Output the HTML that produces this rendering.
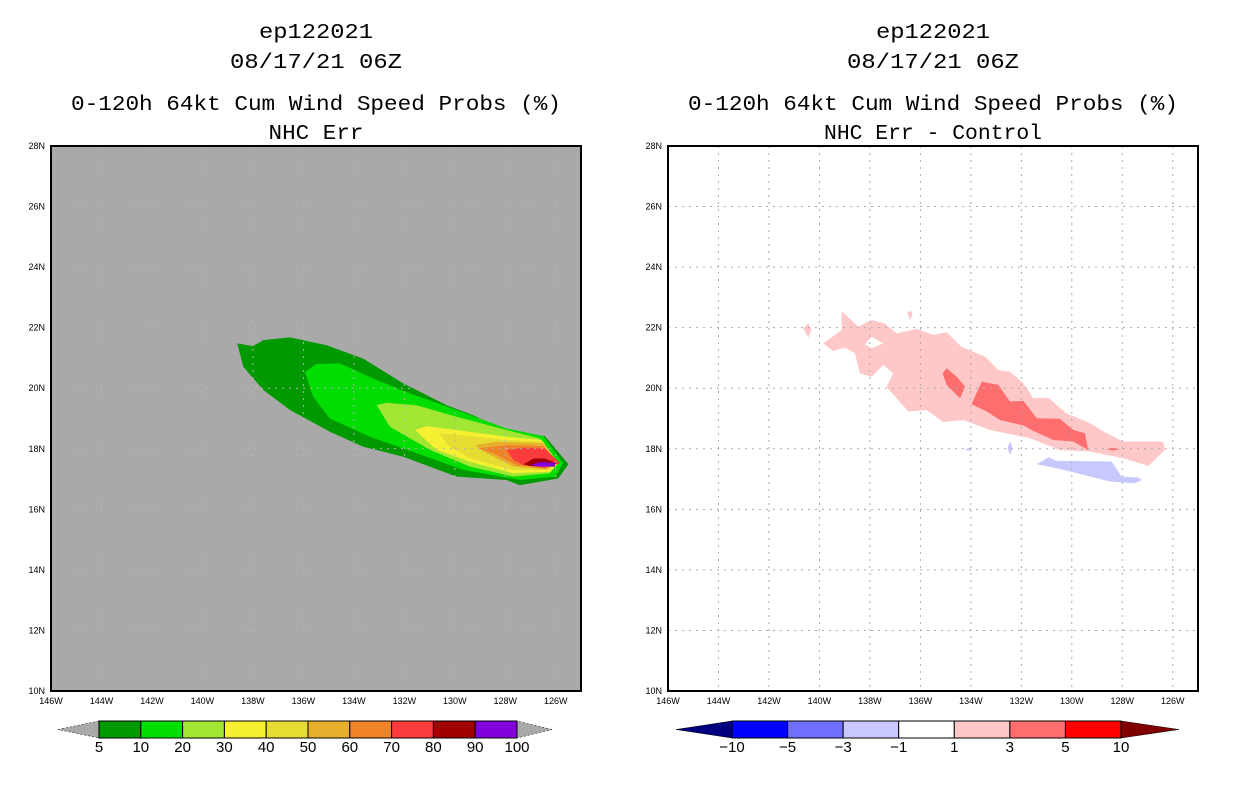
<!DOCTYPE html>
<html><head><meta charset="utf-8"><style>html,body{margin:0;padding:0;background:#fff}svg{display:block}</style></head>
<body>
<svg id="c" width="1236" height="800" xmlns="http://www.w3.org/2000/svg" font-family="Liberation Sans, sans-serif"></svg>
<script>
const lonTicks=[-146,-144,-142,-140,-138,-136,-134,-132,-130,-128,-126];
const lonTickLabels=["146W","144W","142W","140W","138W","136W","134W","132W","130W","128W","126W"];
const latTicks=[10,12,14,16,18,20,22,24,26,28];
const latTickLabels=["10N","12N","14N","16N","18N","20N","22N","24N","26N","28N"];
const leftLevels=["5","10","20","30","40","50","60","70","80","90","100"];
const leftColors=["#009900","#00dd00","#a0e632","#f5f032","#e6dc32","#e6af2d","#f08228","#fa3c3c","#a00000","#8200dc"];
const rightLevels=["-10","-5","-3","-1","1","3","5","10"];
const rightColors=["#000080","#0000ff","#6e6eff","#c8c8ff","#ffffff","#ffc8c8","#ff6e6e","#ff0000","#800000"];
// left contours: [colorIndex, [[lon,lat],...]]
const leftContours=[
[0,[[-138.62,21.48],[-137.99,21.39],[-137.59,21.59],[-136.53,21.68],[-135.08,21.42],[-133.63,20.98],[-132.04,20.16],[-130.32,19.44],[-129.27,19.11],[-127.81,18.51],[-126.43,18.42],[-125.50,17.49],[-125.90,17.02],[-127.42,16.80],[-127.95,16.97],[-129.93,17.08],[-132.04,17.74],[-133.63,18.07],[-134.95,18.56],[-136.53,19.28],[-137.59,19.94],[-138.38,20.71]]],
[1,[[-135.94,20.54],[-135.48,20.80],[-134.55,20.82],[-133.10,20.27],[-131.78,19.83],[-129.93,19.28],[-127.95,18.67],[-126.49,18.42],[-125.70,17.52],[-126.03,17.08],[-127.42,16.97],[-129.66,17.30],[-131.51,17.85],[-133.36,18.40],[-134.95,19.00],[-135.61,19.72]]],
[2,[[-133.10,19.44],[-132.70,19.52],[-131.51,19.44],[-129.93,19.06],[-127.95,18.62],[-126.62,18.34],[-125.90,17.52],[-126.23,17.19],[-127.68,17.08],[-129.40,17.41],[-130.98,17.96],[-132.57,18.73]]],
[3,[[-131.58,18.62],[-131.12,18.75],[-129.93,18.62],[-127.95,18.40],[-126.56,18.29],[-125.90,17.52],[-126.23,17.24],[-127.68,17.19],[-129.40,17.57],[-130.72,17.96]]],
[4,[[-130.65,18.51],[-129.66,18.45],[-127.95,18.29],[-126.49,18.23],[-125.96,17.52],[-126.29,17.30],[-127.68,17.30],[-129.40,17.68],[-130.19,18.07]]],
[5,[[-129.20,18.12],[-128.34,18.23],[-126.49,18.18],[-125.96,17.52],[-126.36,17.32],[-127.68,17.41],[-128.74,17.85]]],
[6,[[-129.07,18.01],[-127.95,18.12],[-126.49,18.09],[-126.03,17.52],[-126.43,17.35],[-127.55,17.46],[-128.47,17.85]]],
[7,[[-127.95,17.96],[-127.28,18.04],[-126.43,18.01],[-125.83,17.52],[-126.43,17.38],[-127.28,17.46],[-127.68,17.63]]],
[8,[[-127.28,17.49],[-126.89,17.68],[-126.43,17.68],[-125.96,17.52],[-126.23,17.41],[-127.02,17.43]]],
[9,[[-127.02,17.46],[-126.62,17.56],[-126.03,17.54],[-126.03,17.41],[-126.62,17.41]]]
];
const rightContours=[
[5,[[-139.85,21.48],[-139.12,21.92],[-139.12,22.55],[-138.46,22.03],[-137.93,22.25],[-137.41,22.14],[-136.94,21.81],[-136.15,21.96],[-135.49,21.76],[-134.96,21.85],[-134.37,21.37],[-133.44,21.04],[-132.91,20.60],[-132.45,20.55],[-131.92,20.16],[-131.53,19.67],[-130.93,19.69],[-130.21,19.17],[-129.28,18.84],[-128.75,18.57],[-127.96,18.24],[-126.38,18.24],[-126.31,17.96],[-126.97,17.43],[-127.96,17.69],[-129.28,17.91],[-130.47,17.96],[-131.66,18.35],[-133.24,18.62],[-134.30,18.95],[-135.09,18.88],[-135.75,19.28],[-136.48,19.23],[-137.34,20.05],[-137.08,20.49],[-137.47,20.77],[-137.93,20.38],[-138.40,20.49],[-138.59,21.15],[-138.99,21.34],[-139.45,21.23]]],
[4,[[-138.20,21.45],[-137.93,21.70],[-137.47,21.48],[-137.93,21.32]]],
[5,[[-140.64,21.98],[-140.44,22.14],[-140.31,21.92],[-140.44,21.67]]],
[5,[[-136.52,22.51],[-136.35,22.55],[-136.31,22.42],[-136.41,22.25]]],
[6,[[-135.12,20.49],[-134.96,20.66],[-134.56,20.38],[-134.23,20.05],[-134.43,19.67],[-134.96,20.11]]],
[6,[[-133.97,19.47],[-133.57,20.22],[-132.91,20.11],[-132.45,19.56],[-131.92,19.58],[-131.39,19.01],[-130.47,18.99],[-129.94,18.62],[-129.48,18.51],[-129.35,17.96],[-129.94,18.24],[-130.73,18.29],[-131.53,18.59],[-131.92,18.77],[-132.85,18.95],[-133.37,19.23]]],
[6,[[-128.62,17.99],[-128.42,18.04],[-128.09,17.98],[-128.42,17.94]]],
[3,[[-131.39,17.49],[-130.93,17.72],[-130.60,17.60],[-128.42,17.58],[-128.03,17.08],[-127.37,17.05],[-127.23,16.97],[-127.50,16.86],[-128.49,16.92],[-129.55,17.14],[-130.60,17.36]]],
[3,[[-134.23,17.98],[-134.08,18.03],[-133.93,17.98],[-134.08,17.93]]],
[3,[[-132.55,18.02],[-132.45,18.25],[-132.35,18.02],[-132.45,17.79]]]
];
const S=document.getElementById('c'),NS='http://www.w3.org/2000/svg';
function mk(t,a,p){const e=document.createElementNS(NS,t);for(const k in a)e.setAttribute(k,a[k]);(p||S).appendChild(e);return e;}
const Y0=146,Y1=691,LON0=-146,LON1=-125,LAT0=10,LAT1=28;
function panel(x0,x1,bg,contours,colors,name,titles){
  const g=mk('g',{});
  
  
  const xs=lon=>x0+(lon-LON0)/(LON1-LON0)*(x1-x0);
  const ys=lat=>Y1-(lat-LAT0)/(LAT1-LAT0)*(Y1-Y0);
  const bgR=mk('rect',{x:x0,y:Y0,width:x1-x0,height:Y1-Y0,fill:bg},g);
  
  
  contours.forEach(c=>{
    const p=mk('polygon',{points:c[1].map(q=>xs(q[0]).toFixed(1)+','+ys(q[1]).toFixed(1)).join(' '),fill:colors[c[0]]},g);
    
    
  });
  const gc=bg=='#fff'?'#aaa':'#b4b4b4';
  lonTicks.forEach((lon,i)=>{
    const x=xs(lon);
    if(i>0){const l=mk('line',{x1:x,x2:x,y1:Y0,y2:Y1,stroke:gc,'stroke-dasharray':'2,5'},g);
    
    }
    const t=mk('text',{x:x,y:704,'font-size':9,'text-anchor':'middle'},g);t.textContent=lonTickLabels[i];
    
    
  });
  latTicks.forEach((lat,i)=>{
    const y=ys(lat);
    if(i>0&&i<latTicks.length-1){const l=mk('line',{x1:x0,x2:x1,y1:y,y2:y,stroke:gc,'stroke-dasharray':'2,5'},g);
    
    }
    const t=mk('text',{x:x0-6,y:y+3,'font-size':9,'text-anchor':'end'},g);t.textContent=latTickLabels[i];
    
    
  });
  const fr=mk('rect',{x:x0,y:Y0,width:x1-x0,height:Y1-Y0,fill:'none',stroke:'#000','stroke-width':2},g);
  
  
  const cx=(x0+x1)/2,ty=[38,68,110,139];
  titles.forEach((s,i)=>{
    const t=mk('text',{x:cx-s[1]/2,y:ty[i],'font-size':21,textLength:s[1],lengthAdjust:'spacingAndGlyphs','font-family':'Liberation Mono, monospace'},g);
    t.textContent=s[0];
    
    
  });
}
panel(51,581,'#a9a9a9',leftContours,leftColors,'left-panel-probs',[["ep122021",114],["08/17/21 06Z",172],["0-120h 64kt Cum Wind Speed Probs (%)",490],["NHC Err",95]]);
panel(668,1198,'#fff',rightContours,rightColors,'right-panel-diff',[["ep122021",114],["08/17/21 06Z",172],["0-120h 64kt Cum Wind Speed Probs (%)",490],["NHC Err - Control",218]]);
function colorbar(bx0,bx1,tipL,tipR,colors,labels,name,triL,triR){
  const g=mk('g',{});
  
  
  const yt=721,yb=738,ym=729.5,n=colors.length-(triL?0:0);
  const segs=colors.slice(triL?1:0,triR?colors.length-1:colors.length);
  const w=(bx1-bx0)/segs.length;
  const a=mk('polygon',{points:`${tipL},${ym} ${bx0},${yt} ${bx0},${yb}`,fill:triL||'#a9a9a9',stroke:'#000','stroke-width':0.5,'stroke-dasharray':triL?'':'2,2'},g);
  
  
  const b=mk('polygon',{points:`${tipR},${ym} ${bx1},${yt} ${bx1},${yb}`,fill:triR||'#a9a9a9',stroke:'#000','stroke-width':0.5,'stroke-dasharray':triR?'':'2,2'},g);
  
  
  segs.forEach((c,i)=>{
    const r=mk('rect',{x:bx0+i*w,y:yt,width:w,height:yb-yt,fill:c,stroke:'#000','stroke-width':1},g);
    
    
  });
  labels.forEach((s,i)=>{
    const t=mk('text',{x:bx0+i*w,y:752,'font-size':15,'text-anchor':'middle'},g);
    t.textContent=s.replace('-','\u2212');
    
    
  });
}
colorbar(99,517,58,552,leftColors,leftLevels,'left-colorbar',null,null);
colorbar(732,1121,676,1179,rightColors,rightLevels,'right-colorbar',rightColors[0],rightColors[rightColors.length-1]);
</script>
</body></html>
